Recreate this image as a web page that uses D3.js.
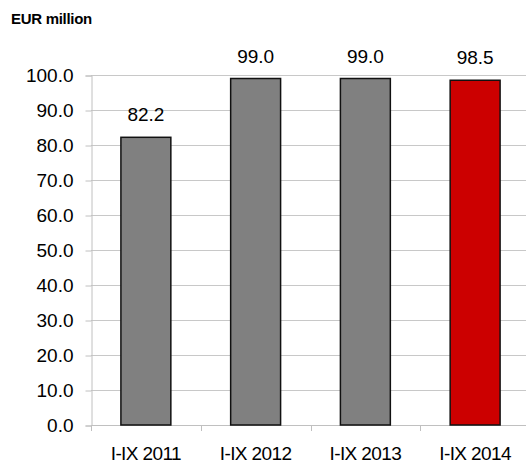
<!DOCTYPE html>
<html>
<head>
<meta charset="utf-8">
<script src="https://cdn.jsdelivr.net/npm/d3@7"></script>
<style>
  html, body { margin: 0; padding: 0; background: #fff; }
  svg { display: block; font-family: "Liberation Sans", Arial, sans-serif; }
</style>
</head>
<body>
<svg id="chart" width="526" height="465"></svg>
<script>
const categories = ["I-IX 2011", "I-IX 2012", "I-IX 2013", "I-IX 2014"];
const values = [82.2, 99.0, 99.0, 98.5];
const barColors = ["#808080", "#808080", "#808080", "#cc0000"];
const yTicks = [0, 10, 20, 30, 40, 50, 60, 70, 80, 90, 100];
const unitLabel = "EUR million";

(function () {
const svg = d3.select("#chart");
const mLeft = 91, mRight = 530, mTop = 75, mBottom = 425;

const x = d3.scaleBand().domain(categories).range([mLeft, mRight]).padding(0);
const y = d3.scaleLinear().domain([0, 100]).range([mBottom, mTop]);
const barW = x.bandwidth() * 0.455;

// gridlines
svg.append("g").selectAll("line").data(yTicks).join("line")
  .attr("x1", mLeft).attr("x2", 526)
  .attr("y1", d => Math.round(y(d)) + 0.5).attr("y2", d => Math.round(y(d)) + 0.5)
  .attr("stroke", "#c8c8c8").attr("stroke-width", 1);

// y axis
const yAxis = svg.append("g").attr("transform", `translate(${mLeft + 0.5},0.5)`)
  .call(d3.axisLeft(y).tickValues(yTicks).tickFormat(d3.format(".1f")).tickSize(6).tickPadding(12));
yAxis.select(".domain").attr("stroke", "#c0c0c0");
yAxis.selectAll(".tick line").attr("stroke", "#c0c0c0");
yAxis.selectAll(".tick text").attr("font-size", 19).attr("fill", "#000")
  .attr("font-family", "Liberation Sans, Arial, sans-serif");

// x axis baseline and ticks at band boundaries
svg.append("line").attr("x1", mLeft).attr("x2", 526)
  .attr("y1", mBottom + 0.5).attr("y2", mBottom + 0.5).attr("stroke", "#c0c0c0");
svg.append("g").selectAll("line").data(categories).join("line")
  .attr("x1", d => Math.round(x(d)) + 0.5).attr("x2", d => Math.round(x(d)) + 0.5)
  .attr("y1", mBottom).attr("y2", mBottom + 6).attr("stroke", "#c0c0c0");

// category labels
svg.append("g").selectAll("text").data(categories).join("text")
  .attr("x", d => x(d) + x.bandwidth() / 2)
  .attr("y", 460)
  .attr("text-anchor", "middle")
  .attr("font-size", 19)
  .attr("letter-spacing", -0.6)
  .text(d => d);

// bars
svg.append("g").selectAll("rect").data(values).join("rect")
  .attr("x", (d, i) => x(categories[i]) + (x.bandwidth() - barW) / 2)
  .attr("y", d => y(d))
  .attr("width", barW)
  .attr("height", d => y(0) - y(d))
  .attr("fill", (d, i) => barColors[i])
  .attr("stroke", "#111")
  .attr("stroke-width", 1.5);

// value labels
svg.append("g").selectAll("text").data(values).join("text")
  .attr("x", (d, i) => x(categories[i]) + x.bandwidth() / 2)
  .attr("y", d => y(d) - 16)
  .attr("text-anchor", "middle")
  .attr("font-size", 19)
  .text(d => d3.format(".1f")(d));

// unit label
svg.append("text").attr("x", 11).attr("y", 24)
  .attr("font-size", 15).attr("font-weight", "bold")
  .attr("letter-spacing", -0.3)
  .text(unitLabel);
})();
</script>
</body>
</html>
